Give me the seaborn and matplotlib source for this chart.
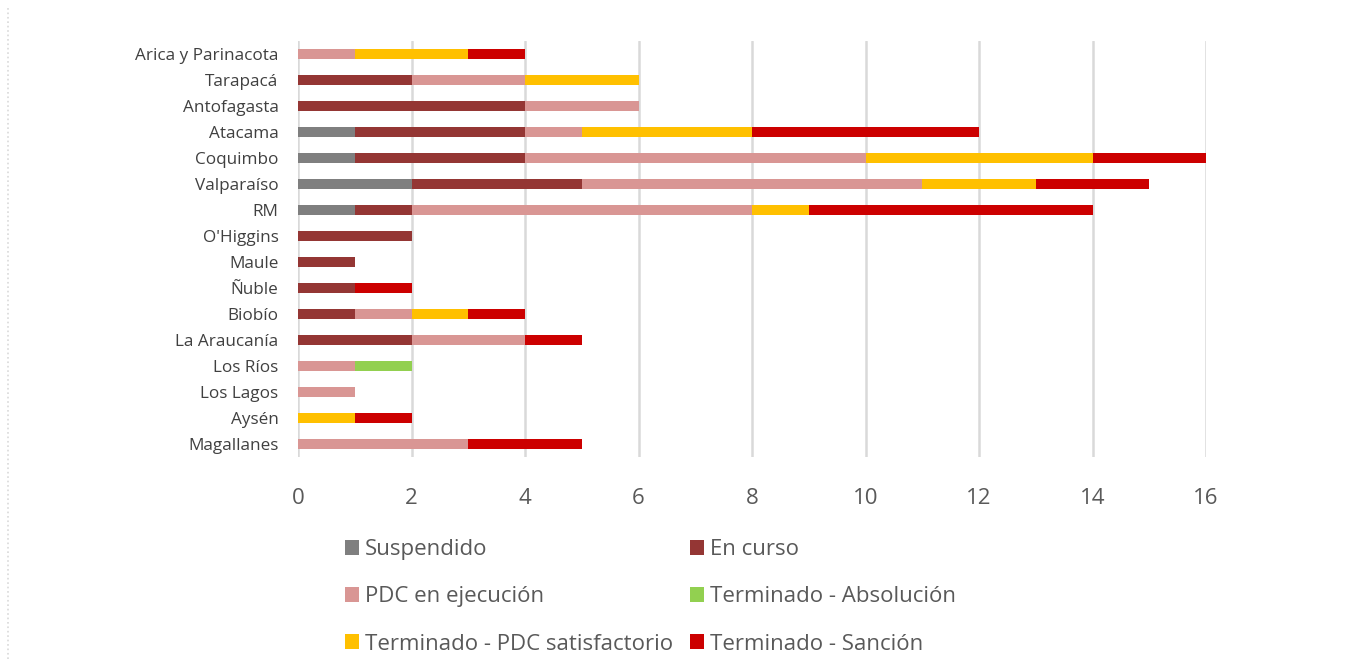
import numpy as np
import pandas as pd
import seaborn as sns
import matplotlib.pyplot as plt
from matplotlib.patches import Patch
from matplotlib.lines import Line2D

# regiones (de arriba hacia abajo)
regiones = ["Arica y Parinacota", "Tarapacá", "Antofagasta", "Atacama", "Coquimbo",
            "Valparaíso", "RM", "O'Higgins", "Maule", "Ñuble", "Biobío",
            "La Araucanía", "Los Ríos", "Los Lagos", "Aysén", "Magallanes"]

suspendido = [0, 0, 0, 1, 1, 2, 1, 0, 0, 0, 0, 0, 0, 0, 0, 0]
en_curso = [0, 2, 4, 3, 3, 3, 1, 2, 1, 1, 1, 2, 0, 0, 0, 0]
pdc_ejecucion = [1, 2, 2, 1, 6, 6, 6, 0, 0, 0, 1, 2, 1, 1, 0, 3]
absolucion = [0, 0, 0, 0, 0, 0, 0, 0, 0, 0, 0, 0, 1, 0, 0, 0]
pdc_satisfactorio = [2, 2, 0, 3, 4, 2, 1, 0, 0, 0, 1, 0, 0, 0, 1, 0]
sancion = [1, 0, 0, 4, 2, 2, 5, 0, 0, 1, 1, 1, 0, 0, 1, 2]

estados = ["Suspendido", "En curso", "PDC en ejecución", "Terminado - Absolución",
           "Terminado - PDC satisfactorio", "Terminado - Sanción"]
colores = ["#7f7f7f", "#943634", "#d99694", "#92d050", "#ffc000", "#cc0000"]

df = pd.DataFrame({
    "region": regiones,
    "Suspendido": suspendido,
    "En curso": en_curso,
    "PDC en ejecución": pdc_ejecucion,
    "Terminado - Absolución": absolucion,
    "Terminado - PDC satisfactorio": pdc_satisfactorio,
    "Terminado - Sanción": sancion,
})

# acumulados para apilar
acum = df[estados].cumsum(axis=1)

sns.set_style("white")
plt.rcParams['font.family'] = ['Open Sans', 'DejaVu Sans']

fig = plt.figure(figsize=(13.53, 6.59), dpi=100)
ax = fig.add_axes([0.2203, 0.3065, 0.6711, 0.6313])

# se dibuja del total hacia atras para que queden apiladas
for est, col in zip(reversed(estados), reversed(colores)):
    datos = pd.DataFrame({"region": regiones, "valor": acum[est]})
    sns.barplot(data=datos, x="valor", y="region", order=regiones, color=col,
                width=0.42, saturation=1, linewidth=0, ax=ax, zorder=3)

ax.set_xlim(0, 16)
ax.set_ylim(len(regiones) - 0.5, -0.5)
ax.set_xticks(range(0, 17, 2))
ax.xaxis.grid(True, color="#d9d9d9", linewidth=1.8, zorder=0)
ax.set_axisbelow(True)
for s in ax.spines.values():
    s.set_visible(False)
ax.set_xlabel("")
ax.set_ylabel("")
ax.tick_params(axis="x", length=0, pad=22, labelsize=16, labelcolor="#595959")
ax.tick_params(axis="y", length=0, pad=14, labelsize=12.3, labelcolor="#404040")

# leyenda
orden = [0, 2, 4, 1, 3, 5]
handles = [Patch(facecolor=colores[i], edgecolor="none") for i in orden]
labels = [estados[i] for i in orden]
fig.legend(handles, labels, ncol=2, loc="upper left",
           bbox_to_anchor=(0.2468, 1 - 528 / 659), frameon=False,
           fontsize=16, labelcolor="#595959", borderpad=0,
           handlelength=0.65, handleheight=0.65, handletextpad=0.25,
           columnspacing=0.75, labelspacing=1.18)

# borde punteado del cuadro
fig.add_artist(Line2D([0.006, 0.006], [0, 0.99], transform=fig.transFigure,
                      color="#d9d9d9", linestyle=":", linewidth=1.2))

fig.savefig("out.png", dpi=100)
